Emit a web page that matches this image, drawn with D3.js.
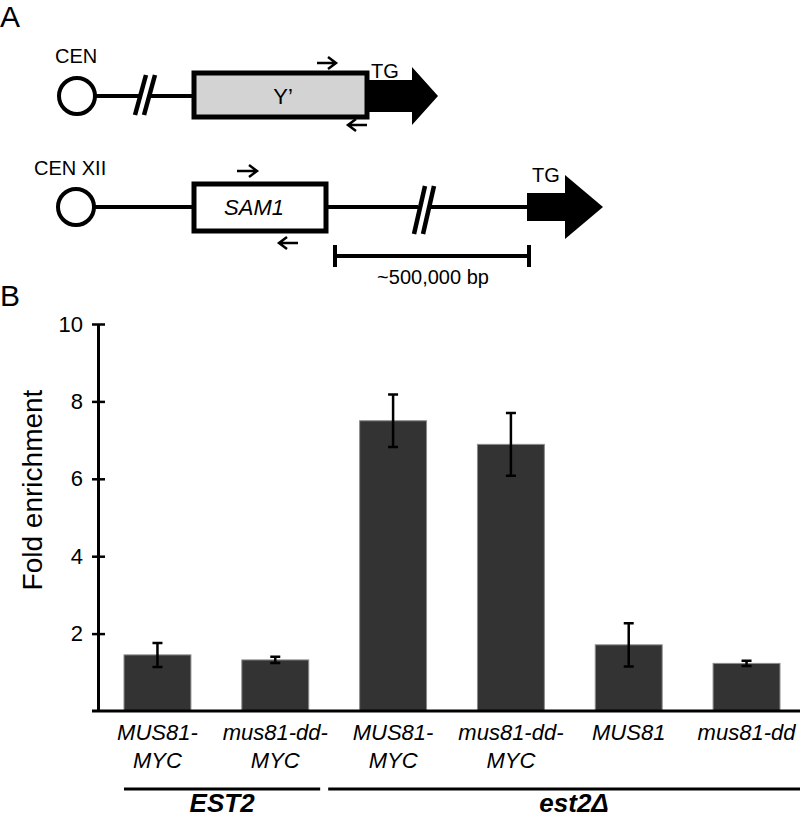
<!DOCTYPE html>
<html>
<head>
<meta charset="utf-8">
<script src="https://cdn.jsdelivr.net/npm/d3@7"></script>
<style>
  body { margin: 0; background: #fff; }
  svg { display: block; font-family: "Liberation Sans", Arial, sans-serif; }
</style>
</head>
<body>
<svg id="fig" width="800" height="819"></svg>
<script>
// DATA
var categories = ["MUS81-MYC", "mus81-dd-MYC", "MUS81-MYC", "mus81-dd-MYC", "MUS81", "mus81-dd"];
var labelLine1 = ["MUS81-", "mus81-dd-", "MUS81-", "mus81-dd-", "MUS81", "mus81-dd"];
var labelLine2 = ["MYC", "MYC", "MYC", "MYC", "", ""];
var values = [1.45, 1.32, 7.50, 6.89, 1.71, 1.23];
var errors = [0.31, 0.08, 0.68, 0.81, 0.56, 0.07];
var yTicks = [2, 4, 6, 8, 10];
var groupNames = ["EST2", "est2\u0394"];
var groupFirst = [0, 2];
var groupLast = [1, 5];

var svg = d3.select("#fig");

// PANEL LETTERS
svg.append("text").attr("x", 0).attr("y", 27).style("font-size", "30px").text("A");
svg.append("text").attr("x", 0).attr("y", 306).style("font-size", "30px").text("B");

// ---------- PANEL A: DIAGRAM ----------
var A = svg.append("g").attr("class", "diagram");

function primer(g, x0, x1, y, dir) {
    // small open arrow, dir = 1 right, -1 left
    var tip = dir > 0 ? x1 : x0;
    g.append("path")
        .attr("d", "M" + x0 + "," + y + "H" + x1 +
                   "M" + (tip - dir * 8) + "," + (y - 6) + "L" + tip + "," + y + "L" + (tip - dir * 8) + "," + (y + 6))
        .attr("fill", "none").attr("stroke", "#000").attr("stroke-width", 2.5);
}

function breakMarks(g, xb, yTop, yBot, dx) {
    [0, 9].forEach(function(o) {
        g.append("line")
            .attr("x1", xb + o).attr("y1", yBot)
            .attr("x2", xb + o + dx).attr("y2", yTop)
            .attr("stroke", "#000").attr("stroke-width", 4.5);
    });
}

function tgArrow(g, xs, xb, xt, cy, hs, hh) {
    g.append("path")
        .attr("d", "M" + xs + "," + (cy - hs) + "H" + xb + "V" + (cy - hh) + "L" + xt + "," + cy +
                   "L" + xb + "," + (cy + hh) + "V" + (cy + hs) + "H" + xs + "Z")
        .attr("fill", "#000");
}

// row 1
var r1 = 96;
A.append("text").attr("x", 55).attr("y", 63).style("font-size", "20px").text("CEN");
A.append("line").attr("x1", 90).attr("x2", 140).attr("y1", r1).attr("y2", r1).attr("stroke", "#000").attr("stroke-width", 4);
A.append("line").attr("x1", 150).attr("x2", 195).attr("y1", r1).attr("y2", r1).attr("stroke", "#000").attr("stroke-width", 4);
breakMarks(A, 135, 75, 115, 11);
A.append("circle").attr("cx", 77).attr("cy", r1).attr("r", 18)
    .attr("fill", "#fff").attr("stroke", "#000").attr("stroke-width", 4);
tgArrow(A, 366, 412, 438, r1, 16, 29);
A.append("rect").attr("x", 194).attr("y", 73).attr("width", 173).attr("height", 44)
    .attr("fill", "#d3d3d3").attr("stroke", "#000").attr("stroke-width", 5);
A.append("text").attr("x", 283).attr("y", 104).attr("text-anchor", "middle").style("font-size", "22px").text("Y\u2019");
A.append("text").attr("x", 371).attr("y", 78).style("font-size", "20px").text("TG");
primer(A, 317, 336, 63, 1);
primer(A, 348, 367, 125, -1);

// row 2
var r2 = 207;
A.append("text").attr("x", 34).attr("y", 175).style("font-size", "20px").text("CEN XII");
A.append("line").attr("x1", 92).attr("x2", 195).attr("y1", r2).attr("y2", r2).attr("stroke", "#000").attr("stroke-width", 4);
A.append("line").attr("x1", 325).attr("x2", 418).attr("y1", r2).attr("y2", r2).attr("stroke", "#000").attr("stroke-width", 4);
A.append("line").attr("x1", 428).attr("x2", 530).attr("y1", r2).attr("y2", r2).attr("stroke", "#000").attr("stroke-width", 4);
breakMarks(A, 414, 186, 234, 11);
A.append("circle").attr("cx", 76).attr("cy", r2).attr("r", 18)
    .attr("fill", "#fff").attr("stroke", "#000").attr("stroke-width", 4);
A.append("rect").attr("x", 194).attr("y", 184).attr("width", 132).attr("height", 47)
    .attr("fill", "#fff").attr("stroke", "#000").attr("stroke-width", 5);
A.append("text").attr("x", 254).attr("y", 215).attr("text-anchor", "middle")
    .style("font-size", "22px").style("font-style", "italic").text("SAM1");
tgArrow(A, 527, 565, 603, r2, 14, 32);
A.append("text").attr("x", 532).attr("y", 182).style("font-size", "20px").text("TG");
primer(A, 237, 257, 171, 1);
primer(A, 279, 298, 243, -1);
// scale bar
A.append("path").attr("d", "M335,256H529M335,245V267M529,245V267")
    .attr("fill", "none").attr("stroke", "#000").attr("stroke-width", 4);
A.append("text").attr("x", 433).attr("y", 284).attr("text-anchor", "middle")
    .style("font-size", "20px").text("~500,000 bp");

// ---------- PANEL B: BAR CHART ----------
var x = d3.scaleBand().domain(categories.map(function(d, i) { return i; }))
    .range([124, 780]).paddingInner(0.432).paddingOuter(0);
var y = d3.scaleLinear().domain([0, 10]).range([711, 324]);
var bw = x.bandwidth();

var B = svg.append("g").attr("class", "chart");

// bars
B.selectAll("rect.bar").data(values).enter().append("rect")
    .attr("class", "bar")
    .attr("x", function(d, i) { return x(i); })
    .attr("y", function(d) { return y(d); })
    .attr("width", bw)
    .attr("height", function(d) { return y(0) - y(d); })
    .attr("fill", "#333")
    .attr("stroke", "#8c8c8c").attr("stroke-width", 1);

// error bars
var eb = B.selectAll("g.err").data(values).enter().append("g").attr("class", "err")
    .attr("transform", function(d, i) { return "translate(" + (x(i) + bw / 2) + ",0)"; });
eb.append("path")
    .attr("d", function(d, i) {
        var lo = y(d - errors[i]), hi = y(d + errors[i]);
        return "M0," + lo + "V" + hi + "M-5," + hi + "H5M-5," + lo + "H5";
    })
    .attr("fill", "none").attr("stroke", "#000").attr("stroke-width", 2.5);

// y axis
var yAxis = B.append("g").attr("transform", "translate(98,0)")
    .call(d3.axisLeft(y).tickValues(yTicks).tickSize(6).tickSizeOuter(0).tickPadding(9));
yAxis.select(".domain").attr("stroke-width", 3);
yAxis.selectAll(".tick line").attr("x1", 7).attr("x2", -6).attr("stroke-width", 2.5);
yAxis.selectAll(".tick text").style("font-size", "22px").attr("fill", "#000")
    .style("font-family", "'Liberation Sans', Arial, sans-serif");

// baseline
B.append("line").attr("x1", 92).attr("x2", 800).attr("y1", y(0)).attr("y2", y(0))
    .attr("stroke", "#000").attr("stroke-width", 3);

// y label
B.append("text").attr("transform", "translate(42,490) rotate(-90)")
    .attr("text-anchor", "middle").style("font-size", "28px").text("Fold enrichment");

// x labels
var xl = B.selectAll("text.xl").data(categories).enter().append("text")
    .attr("class", "xl")
    .attr("text-anchor", "middle")
    .style("font-size", "22px").style("font-style", "italic")
    .attr("x", function(d, i) { return x(i) + bw / 2; });
xl.append("tspan").attr("y", 740).text(function(d, i) { return labelLine1[i]; });
xl.append("tspan").attr("y", 768)
    .attr("x", function(d, i) { return x(i) + bw / 2; })
    .text(function(d, i) { return labelLine2[i]; });

// group lines and labels
var boundary = (x(1) + bw + x(2)) / 2 - 10;
groupNames.forEach(function(name, g) {
    var x1 = groupFirst[g] === 0 ? x(0) : boundary + 4;
    var x2 = groupLast[g] === categories.length - 1 ? 820 : boundary - 4;
    B.append("line").attr("x1", x1).attr("x2", x2).attr("y1", 789).attr("y2", 789)
        .attr("stroke", "#000").attr("stroke-width", 3);
    B.append("text").attr("x", (x1 + x2) / 2).attr("y", 812)
        .attr("text-anchor", "middle")
        .style("font-size", "26px").style("font-weight", "bold").style("font-style", "italic")
        .text(name);
});
</script>
</body>
</html>
